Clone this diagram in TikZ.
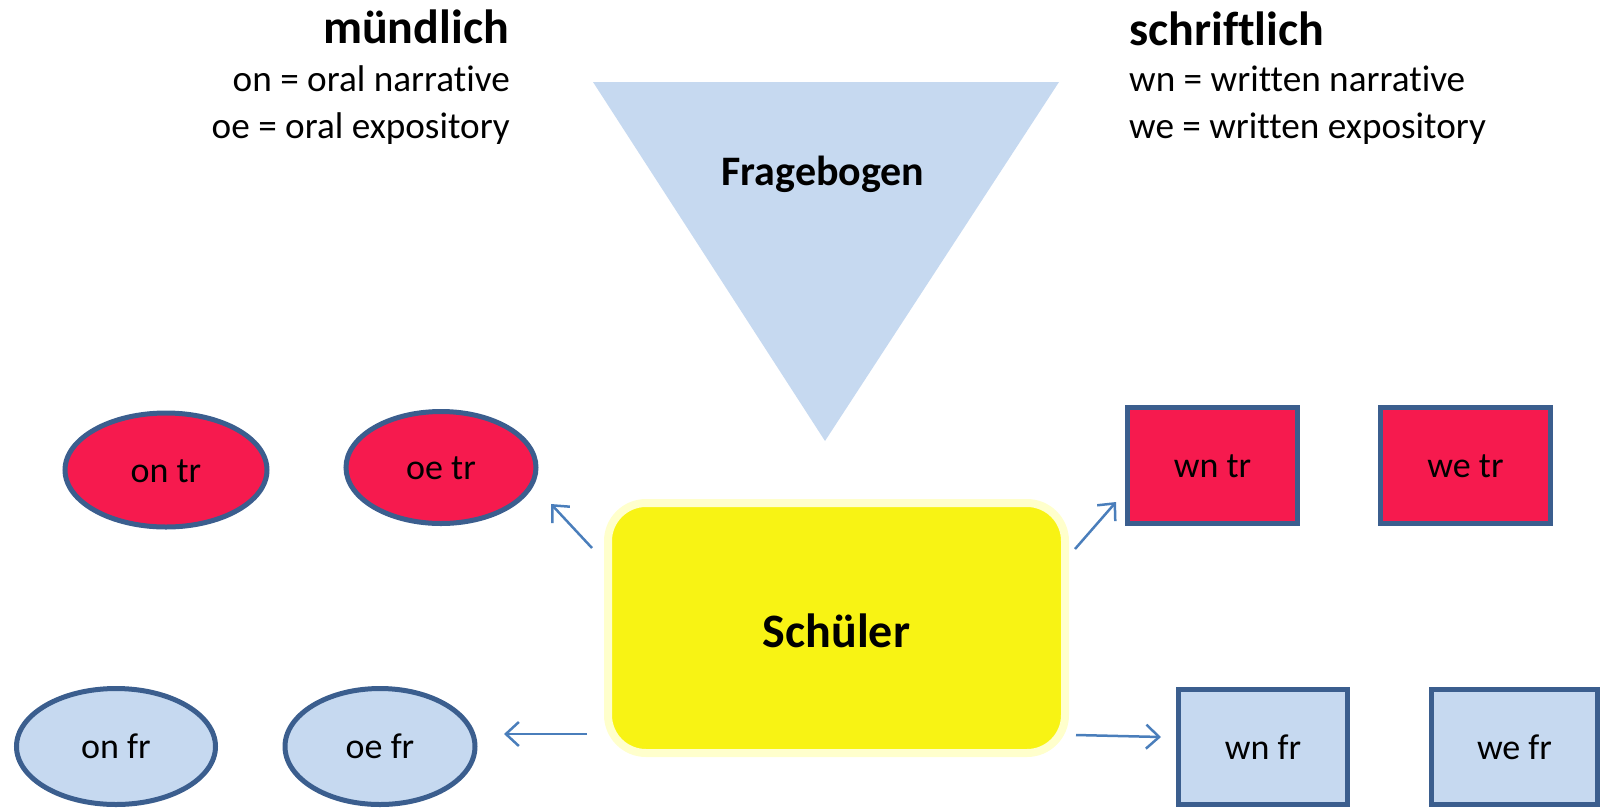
\documentclass[tikz,border=0pt]{standalone}
\usepackage{fontspec}
\setmainfont{Carlito}[Ligatures=NoCommon]
\usetikzlibrary{arrows.meta}
\usetikzlibrary{shapes.geometric}
\usetikzlibrary{positioning}

\definecolor{redfill}{HTML}{F61A4E}
\definecolor{bluefill}{HTML}{C6D9F0}
\definecolor{rim}{HTML}{3B5E8E}
\definecolor{arrowblue}{HTML}{4A7EBB}
\definecolor{gelb}{HTML}{F8F314}
\definecolor{glow}{HTML}{FFFFCC}

\begin{document}
\begin{tikzpicture}[x=1pt,y=-1pt,
    lbl/.style={font=\fontsize{37.2}{44}\selectfont},
    head/.style={font=\fontsize{48}{58}\selectfont\bfseries},
    oval/.style={ellipse,draw=rim,line width=5pt,inner sep=0pt,
      text height=24pt,text depth=0pt,font=\fontsize{36}{43}\selectfont},
    box/.style={rectangle,draw=rim,line width=5pt,inner sep=0pt,
      minimum width=170pt,minimum height=116pt,
      text height=24pt,text depth=0pt,font=\fontsize{36}{43}\selectfont},
    arr/.style={draw=arrowblue,line width=2.5pt,
      -{Straight Barb[length=13pt,width=24pt]}}]

  \useasboundingbox (0,0) rectangle (1601,807);

  % legend
  \node [head,anchor=base east,inner sep=0pt] (muend) at (509,43) {mündlich};
  \node [lbl,anchor=base east,inner sep=0pt] (on) at (510,91) {on = oral narrative};
  \node [lbl,anchor=base east,inner sep=0pt] (oe) at (510,138) {oe = oral expository};

  \node [head,anchor=base west,inner sep=0pt] (schrift) at (1129,45) {schriftlich};
  \node [lbl,anchor=base west,inner sep=0pt] (wn) at (1129,91) {wn = written narrative};
  \node [lbl,anchor=base west,inner sep=0pt] (we) at (1129,138) {we = written expository};

  % Fragebogen
  \coordinate (tl) at (593,82);
  \coordinate (tr) at (1059,82);
  \coordinate (tb) at (825,441);
  \fill [bluefill] (tl) -- (tr) -- (tb) -- cycle;
  \node [font=\fontsize{42}{50}\selectfont\bfseries,anchor=base,inner sep=0pt]
    (frage) at (823,185) {Fragebogen};

  % Schueler
  \node [rectangle,rounded corners=38pt,fill=gelb,draw=glow,line width=8pt,
    minimum width=457pt,minimum height=250pt,inner sep=0pt,
    text height=38pt,text depth=0pt,font=\fontsize{48}{58}\selectfont\bfseries]
    (sch) at (836.5,628) {Schüler};

  % oral
  \node [oval,fill=redfill,minimum width=202pt,minimum height=114pt] (ontr) at (166,470) {on tr};
  \node [oval,fill=redfill,minimum width=190pt,minimum height=112pt] (oetr) at (441,467.5) {oe tr};
  \node [oval,fill=bluefill,minimum width=199pt,minimum height=116pt] (onfr) at (116,746.5) {on fr};
  \node [oval,fill=bluefill,minimum width=190pt,minimum height=116pt] (oefr) at (380,746.5) {oe fr};

  % written
  \node [box,fill=redfill] (wntr) at (1212.5,465.5) {wn tr};
  \node [box,fill=redfill] (wetr) at (1465.5,465.5) {we tr};
  \node [box,fill=bluefill,minimum width=169pt,minimum height=115pt] (wnfr) at (1263,747) {wn fr};
  \node [box,fill=bluefill,minimum width=166pt,minimum height=115pt] (wefr) at (1514.5,747) {we fr};

  % arrows
  \coordinate (a1) at (592,548);
  \coordinate (b1) at (551,504);
  \coordinate (a2) at (587,734);
  \coordinate (b2) at (504,734);
  \coordinate (a3) at (1075,549);
  \coordinate (b3) at (1116,502);
  \coordinate (a4) at (1076,735);
  \coordinate (b4) at (1161,737);
  \path
    (a1) edge [arr] (b1)
    (a2) edge [arr] (b2)
    (a3) edge [arr] (b3)
    (a4) edge [arr] (b4);
\end{tikzpicture}
\end{document}
